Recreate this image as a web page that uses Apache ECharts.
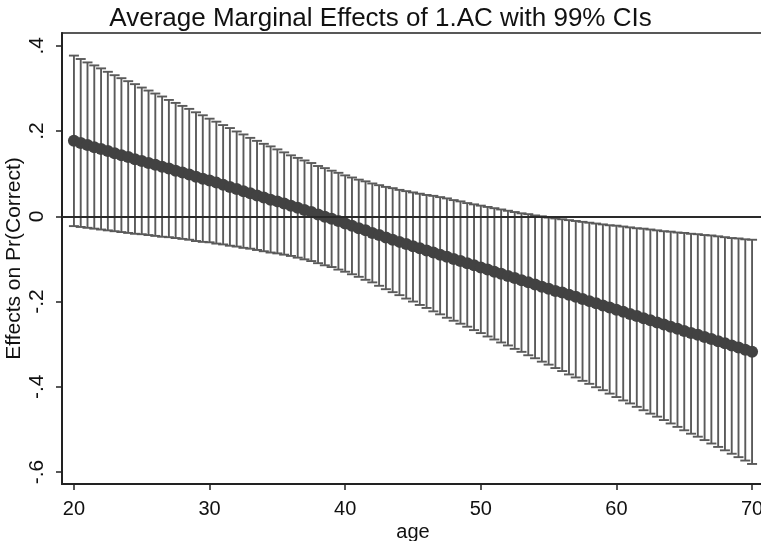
<!DOCTYPE html>
<html>
<head>
<meta charset="utf-8">
<script src="https://cdn.jsdelivr.net/npm/echarts@6/dist/echarts.min.js"></script>
<style>
html,body{margin:0;padding:0;background:#fff;}
#chart{width:761px;height:541px;}
</style>
</head>
<body>
<div id="chart"></div>
<script>
var titleText = 'Average Marginal Effects of 1.AC with 99% CIs';
var xAxisName = 'age';
var yAxisName = 'Effects on Pr(Correct)';

var ages = [20,20.5,21,21.5,22,22.5,23,23.5,24,24.5,25,25.5,26,26.5,27,27.5,28,28.5,29,29.5,
30,30.5,31,31.5,32,32.5,33,33.5,34,34.5,35,35.5,36,36.5,37,37.5,38,38.5,39,39.5,
40,40.5,41,41.5,42,42.5,43,43.5,44,44.5,45,45.5,46,46.5,47,47.5,48,48.5,49,49.5,
50,50.5,51,51.5,52,52.5,53,53.5,54,54.5,55,55.5,56,56.5,57,57.5,58,58.5,59,59.5,
60,60.5,61,61.5,62,62.5,63,63.5,64,64.5,65,65.5,66,66.5,67,67.5,68,68.5,69,69.5,70];

var estimate = [0.177,0.172,0.167,0.162,0.158,0.153,0.148,0.143,0.139,0.134,
0.130,0.125,0.121,0.116,0.112,0.107,0.103,0.098,0.093,0.088,
0.084,0.079,0.074,0.069,0.064,0.059,0.054,0.049,0.044,0.039,
0.035,0.030,0.025,0.020,0.015,0.010,0.004,-0.001,-0.006,-0.011,
-0.017,-0.022,-0.028,-0.033,-0.039,-0.044,-0.050,-0.055,-0.060,-0.065,
-0.070,-0.075,-0.080,-0.085,-0.090,-0.095,-0.100,-0.105,-0.110,-0.115,
-0.120,-0.125,-0.130,-0.135,-0.140,-0.145,-0.150,-0.155,-0.160,-0.165,
-0.170,-0.175,-0.179,-0.184,-0.189,-0.194,-0.199,-0.204,-0.209,-0.214,
-0.219,-0.224,-0.229,-0.234,-0.239,-0.244,-0.249,-0.254,-0.259,-0.264,
-0.269,-0.274,-0.278,-0.283,-0.288,-0.293,-0.298,-0.303,-0.308,-0.313,-0.318];

var upper = [0.377,0.369,0.361,0.354,0.347,0.339,0.331,0.324,0.317,0.310,
0.302,0.295,0.288,0.281,0.273,0.266,0.259,0.252,0.244,0.237,
0.229,0.222,0.214,0.207,0.199,0.192,0.184,0.177,0.170,0.164,
0.157,0.150,0.143,0.137,0.131,0.125,0.118,0.113,0.107,0.102,
0.096,0.091,0.086,0.082,0.077,0.073,0.069,0.066,0.062,0.059,
0.056,0.053,0.050,0.048,0.045,0.042,0.038,0.035,0.031,0.028,
0.025,0.022,0.019,0.016,0.013,0.010,0.007,0.005,0.002,0.000,
-0.003,-0.005,-0.007,-0.009,-0.011,-0.013,-0.015,-0.017,-0.019,-0.021,
-0.022,-0.024,-0.026,-0.028,-0.029,-0.031,-0.033,-0.035,-0.036,-0.038,
-0.039,-0.041,-0.042,-0.044,-0.045,-0.047,-0.049,-0.051,-0.052,-0.054,-0.055];

var lower = [-0.023,-0.025,-0.027,-0.029,-0.031,-0.033,-0.035,-0.037,-0.039,-0.041,
-0.042,-0.044,-0.046,-0.048,-0.049,-0.051,-0.053,-0.055,-0.058,-0.060,
-0.061,-0.064,-0.066,-0.069,-0.071,-0.074,-0.076,-0.079,-0.082,-0.085,
-0.087,-0.090,-0.093,-0.097,-0.101,-0.105,-0.110,-0.115,-0.119,-0.125,
-0.130,-0.136,-0.142,-0.149,-0.155,-0.163,-0.171,-0.178,-0.185,-0.193,
-0.200,-0.208,-0.215,-0.223,-0.230,-0.238,-0.245,-0.252,-0.259,-0.267,
-0.274,-0.282,-0.289,-0.296,-0.303,-0.311,-0.318,-0.326,-0.333,-0.341,
-0.348,-0.356,-0.363,-0.371,-0.378,-0.386,-0.393,-0.401,-0.408,-0.416,
-0.424,-0.432,-0.439,-0.447,-0.455,-0.463,-0.470,-0.478,-0.486,-0.494,
-0.502,-0.510,-0.517,-0.525,-0.533,-0.541,-0.549,-0.557,-0.565,-0.573,-0.581];

var xTickValues = [20,30,40,50,60,70];
var xTickLabels = ['20','30','40','50','60','70'];
var yTickValues = [0.4,0.2,0,-0.2,-0.4,-0.6];
var yTickLabels = ['.4','.2','0','-.2','-.4','-.6'];

var FONT = 'Liberation Sans, Arial, Helvetica, sans-serif';

var ciData = ages.map(function(a,i){ return [a, lower[i], upper[i]]; });
var estData = ages.map(function(a,i){ return [a, estimate[i]]; });

function labelFor(values, labels){
  return function(v){
    for (var i=0;i<values.length;i++){ if (Math.abs(values[i]-v) < 1e-6) return labels[i]; }
    return '';
  };
}

var chart = echarts.init(document.getElementById('chart'), null, {renderer:'canvas'});
chart.setOption({
  backgroundColor:'#ffffff',
  animation:false,
  title:{
    text:titleText, left:'center', top:1,
    textStyle:{fontFamily:FONT, fontSize:26, fontWeight:'normal', color:'#111'}
  },
  grid:{left:62, right:-3, top:33, bottom:57, outerBoundsMode:'none', containLabel:false,
        show:true, borderColor:'#222', borderWidth:1.5, backgroundColor:'transparent'},
  xAxis:{
    type:'value', min:19.12, max:70.88,
    name:xAxisName, nameLocation:'middle', nameGap:38, nameMoveOverlap:false,
    nameTextStyle:{fontFamily:FONT, fontSize:20, color:'#111'},
    axisLine:{show:true, onZero:false, lineStyle:{color:'#222', width:2}},
    axisTick:{show:true, length:6, customValues:xTickValues, lineStyle:{color:'#222', width:1.5}},
    axisLabel:{customValues:xTickValues, formatter:labelFor(xTickValues,xTickLabels), margin:15, fontFamily:FONT, fontSize:20, color:'#111'},
    splitLine:{show:false}
  },
  yAxis:{
    type:'value', min:-0.628, max:0.43,
    name:yAxisName, nameLocation:'middle', nameGap:37, nameMoveOverlap:false,
    nameTextStyle:{fontFamily:FONT, fontSize:21, color:'#111'},
    axisLine:{show:true, onZero:false, lineStyle:{color:'#222', width:2}},
    axisTick:{show:true, length:6, customValues:yTickValues, lineStyle:{color:'#222', width:1.5}},
    axisLabel:{customValues:yTickValues, formatter:labelFor(yTickValues,yTickLabels), rotate:90, margin:14, fontFamily:FONT, fontSize:21, color:'#111'},
    splitLine:{show:false}
  },
  series:[
    {
      type:'custom',
      data:ciData,
      encode:{x:0, y:[1,2]},
      z:2,
      renderItem:function(params, api){
        var x = api.value(0);
        var pLo = api.coord([x, api.value(1)]);
        var pHi = api.coord([x, api.value(2)]);
        var cw = 5;
        var st = {stroke:'#5a5a5a', lineWidth:1.9};
        return {type:'group', children:[
          {type:'line', shape:{x1:pHi[0], y1:pHi[1], x2:pLo[0], y2:pLo[1]}, style:st},
          {type:'line', shape:{x1:pHi[0]-cw, y1:pHi[1], x2:pHi[0]+cw, y2:pHi[1]}, style:st},
          {type:'line', shape:{x1:pLo[0]-cw, y1:pLo[1], x2:pLo[0]+cw, y2:pLo[1]}, style:st}
        ]};
      },
      markLine:{
        silent:true, symbol:'none', z:5,
        label:{show:false},
        lineStyle:{color:'#2a2a2a', width:2, type:'solid'},
        data:[{yAxis:0}]
      }
    },
    {
      type:'line',
      data:estData,
      z:4,
      symbol:'circle', symbolSize:12,
      itemStyle:{color:'#424242'},
      lineStyle:{color:'#424242', width:8},
      emphasis:{disabled:true}
    }
  ]
});
</script>
</body>
</html>
